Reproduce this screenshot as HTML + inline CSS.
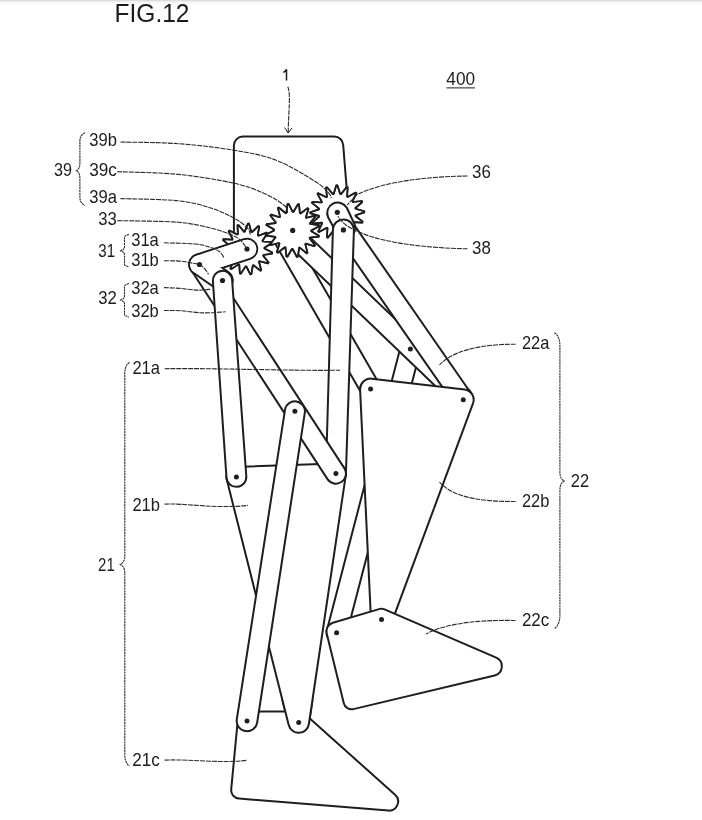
<!DOCTYPE html>
<html><head><meta charset="utf-8"><title>FIG.12</title>
<style>
html,body{margin:0;padding:0;background:#fff;}
body{width:702px;height:820px;overflow:hidden;position:relative;font-family:"Liberation Sans",sans-serif;}
svg{position:absolute;left:0;top:0;display:block;filter:grayscale(1);}
svg text{font-family:"Liberation Sans",sans-serif;fill:#1c1c1c;}
.topline{position:absolute;left:0;top:0;width:702px;height:4px;background:linear-gradient(#d4d4d4,#f1f1f1 40%,#fff);}
</style></head><body>
<svg width="702" height="820" viewBox="0 0 702 820">
<defs><clipPath id="c21b"><rect x="270" y="700" width="60" height="40"/></clipPath></defs>
<path d="M233.9 236 L233.9 145.4 A9 9 0 0 1 242.9 136.5 L334.2 136.5 A9 9 0 0 1 343.2 145.2 L346.8 190" fill="none" stroke="#1e1e1e" stroke-width="2" stroke-linejoin="round" stroke-linecap="round"/>
<path d="M276.3 245.6 L361.9 394.1 A10 10 0 0 0 379.3 384.1 L293.7 235.6 A10 10 0 0 0 276.3 245.6 Z" fill="#fff" stroke="#1e1e1e" stroke-width="2" stroke-linejoin="round" stroke-linecap="round"/>
<path d="M400.7 346.4 L326.9 630.2 A10 10 0 0 0 346.3 635.2 L420.1 351.4 A10 10 0 0 0 400.7 346.4 Z" fill="#fff" stroke="#1e1e1e" stroke-width="2" stroke-linejoin="round" stroke-linecap="round"/>
<path d="M285.6 242.4 L455.4 405.2 A10.3 10.3 0 0 0 469.6 390.4 L299.8 227.6 A10.3 10.3 0 0 0 285.6 242.4 Z" fill="#fff" stroke="#1e1e1e" stroke-width="2" stroke-linejoin="round" stroke-linecap="round"/>
<circle cx="410.4" cy="348.9" r="2.5" fill="#1e1e1e"/>
<path d="M247.9 223.5 L249 223.6 L251.3 232 L252 232.2 L258.2 226.1 L259.2 226.6 L257.8 235.2 L258.4 235.7 L266.6 232.6 L267.2 233.5 L262.5 240.8 L262.8 241.5 L271.5 242 L271.8 243 L264.5 247.8 L264.5 248.5 L272.2 252.6 L272.1 253.6 L263.4 255 L263.2 255.7 L268.6 262.6 L268 263.4 L259.6 261.2 L259 261.7 L261.2 270.2 L260.3 270.7 L253.5 265.2 L252.8 265.5 L251.4 274.1 L250.3 274.3 L246.4 266.5 L245.6 266.4 L240.8 273.7 L239.8 273.4 L239.3 264.7 L238.6 264.4 L231.3 269.1 L230.4 268.4 L233.6 260.2 L233.1 259.7 L224.5 260.9 L224 260 L230.2 253.8 L230 253.1 L221.6 250.7 L221.5 249.7 L229.7 246.5 L229.8 245.8 L223.1 240.2 L223.4 239.2 L232.2 239.7 L232.6 239.1 L228.7 231.3 L229.4 230.5 L237.2 234.5 L237.9 234.1 L237.5 225.3 L238.5 225 L244 231.8 L244.7 231.6 Z" fill="#fff" stroke="#1e1e1e" stroke-width="1.7" stroke-linejoin="round" stroke-linecap="round"/>
<path d="M287.5 204.1 L288.6 203.9 L292.7 211.8 L293.5 211.8 L298 204.1 L299 204.4 L299.9 213.2 L300.5 213.5 L307.6 208.1 L308.5 208.8 L305.9 217.3 L306.4 217.8 L315 215.6 L315.6 216.4 L309.9 223.3 L310.2 224 L319 225.2 L319.2 226.3 L311.3 230.4 L311.3 231.2 L319 235.7 L318.7 236.7 L309.9 237.6 L309.6 238.2 L315 245.3 L314.3 246.2 L305.8 243.6 L305.3 244.1 L307.5 252.7 L306.7 253.3 L299.8 247.6 L299.1 247.9 L297.9 256.7 L296.8 256.9 L292.7 249 L291.9 249 L287.4 256.7 L286.4 256.4 L285.5 247.6 L284.9 247.3 L277.8 252.7 L276.9 252 L279.5 243.5 L279 243 L270.4 245.2 L269.8 244.4 L275.5 237.5 L275.2 236.8 L266.4 235.6 L266.2 234.5 L274.1 230.4 L274.1 229.6 L266.4 225.1 L266.7 224.1 L275.5 223.2 L275.8 222.6 L270.4 215.5 L271.1 214.6 L279.6 217.2 L280.1 216.7 L277.9 208.1 L278.7 207.5 L285.6 213.2 L286.3 212.9 Z" fill="#fff" stroke="#1e1e1e" stroke-width="1.7" stroke-linejoin="round" stroke-linecap="round"/>
<path d="M336.3 185.3 L337.4 185.3 L340.2 193.9 L341 194.1 L346.7 187 L347.7 187.4 L347.1 196.5 L347.7 196.9 L355.7 192.5 L356.4 193.2 L352.4 201.4 L352.8 202 L361.8 201 L362.3 202 L355.4 208 L355.6 208.7 L364.3 211.3 L364.3 212.4 L355.7 215.2 L355.5 216 L362.6 221.7 L362.2 222.7 L353.1 222.1 L352.7 222.7 L357.1 230.7 L356.4 231.4 L348.2 227.4 L347.6 227.8 L348.6 236.8 L347.6 237.3 L341.6 230.4 L340.9 230.6 L338.3 239.3 L337.2 239.3 L334.4 230.7 L333.6 230.5 L327.9 237.6 L326.9 237.2 L327.5 228.1 L326.9 227.7 L318.9 232.1 L318.2 231.4 L322.2 223.2 L321.8 222.6 L312.8 223.6 L312.3 222.6 L319.2 216.6 L319 215.9 L310.3 213.3 L310.3 212.2 L318.9 209.4 L319.1 208.6 L312 202.9 L312.4 201.9 L321.5 202.5 L321.9 201.9 L317.5 193.9 L318.2 193.2 L326.4 197.2 L327 196.8 L326 187.8 L327 187.3 L333 194.2 L333.7 194 Z" fill="#fff" stroke="#1e1e1e" stroke-width="1.7" stroke-linejoin="round" stroke-linecap="round"/>
<path d="M247.9 223.5 L249 223.6 L251.3 232 L252 232.2 L258.2 226.1 L259.2 226.6 L257.8 235.2 L258.4 235.7 L266.6 232.6 L267.2 233.5 L262.5 240.8 L262.8 241.5 L271.5 242 L271.8 243 L264.5 247.8 L264.5 248.5 L272.2 252.6 L272.1 253.6 L263.4 255 L263.2 255.7 L268.6 262.6 L268 263.4 L259.6 261.2 L259 261.7 L261.2 270.2 L260.3 270.7 L253.5 265.2 L252.8 265.5 L251.4 274.1 L250.3 274.3 L246.4 266.5 L245.6 266.4 L240.8 273.7 L239.8 273.4 L239.3 264.7 L238.6 264.4 L231.3 269.1 L230.4 268.4 L233.6 260.2 L233.1 259.7 L224.5 260.9 L224 260 L230.2 253.8 L230 253.1 L221.6 250.7 L221.5 249.7 L229.7 246.5 L229.8 245.8 L223.1 240.2 L223.4 239.2 L232.2 239.7 L232.6 239.1 L228.7 231.3 L229.4 230.5 L237.2 234.5 L237.9 234.1 L237.5 225.3 L238.5 225 L244 231.8 L244.7 231.6 Z" fill="none" stroke="#1e1e1e" stroke-width="1.7" stroke-linejoin="round" stroke-linecap="round"/>
<path d="M287.5 204.1 L288.6 203.9 L292.7 211.8 L293.5 211.8 L298 204.1 L299 204.4 L299.9 213.2 L300.5 213.5 L307.6 208.1 L308.5 208.8 L305.9 217.3 L306.4 217.8 L315 215.6 L315.6 216.4 L309.9 223.3 L310.2 224 L319 225.2 L319.2 226.3 L311.3 230.4 L311.3 231.2 L319 235.7 L318.7 236.7 L309.9 237.6 L309.6 238.2 L315 245.3 L314.3 246.2 L305.8 243.6 L305.3 244.1 L307.5 252.7 L306.7 253.3 L299.8 247.6 L299.1 247.9 L297.9 256.7 L296.8 256.9 L292.7 249 L291.9 249 L287.4 256.7 L286.4 256.4 L285.5 247.6 L284.9 247.3 L277.8 252.7 L276.9 252 L279.5 243.5 L279 243 L270.4 245.2 L269.8 244.4 L275.5 237.5 L275.2 236.8 L266.4 235.6 L266.2 234.5 L274.1 230.4 L274.1 229.6 L266.4 225.1 L266.7 224.1 L275.5 223.2 L275.8 222.6 L270.4 215.5 L271.1 214.6 L279.6 217.2 L280.1 216.7 L277.9 208.1 L278.7 207.5 L285.6 213.2 L286.3 212.9 Z" fill="none" stroke="#1e1e1e" stroke-width="1.7" stroke-linejoin="round" stroke-linecap="round"/>
<path d="M336.3 185.3 L337.4 185.3 L340.2 193.9 L341 194.1 L346.7 187 L347.7 187.4 L347.1 196.5 L347.7 196.9 L355.7 192.5 L356.4 193.2 L352.4 201.4 L352.8 202 L361.8 201 L362.3 202 L355.4 208 L355.6 208.7 L364.3 211.3 L364.3 212.4 L355.7 215.2 L355.5 216 L362.6 221.7 L362.2 222.7 L353.1 222.1 L352.7 222.7 L357.1 230.7 L356.4 231.4 L348.2 227.4 L347.6 227.8 L348.6 236.8 L347.6 237.3 L341.6 230.4 L340.9 230.6 L338.3 239.3 L337.2 239.3 L334.4 230.7 L333.6 230.5 L327.9 237.6 L326.9 237.2 L327.5 228.1 L326.9 227.7 L318.9 232.1 L318.2 231.4 L322.2 223.2 L321.8 222.6 L312.8 223.6 L312.3 222.6 L319.2 216.6 L319 215.9 L310.3 213.3 L310.3 212.2 L318.9 209.4 L319.1 208.6 L312 202.9 L312.4 201.9 L321.5 202.5 L321.9 201.9 L317.5 193.9 L318.2 193.2 L326.4 197.2 L327 196.8 L326 187.8 L327 187.3 L333 194.2 L333.7 194 Z" fill="none" stroke="#1e1e1e" stroke-width="1.7" stroke-linejoin="round" stroke-linecap="round"/>
<circle cx="292.7" cy="230.4" r="2.6" fill="#1e1e1e"/>
<path d="M335.1 232.5 L455.1 405.4 A10 10 0 0 0 471.5 394 L351.5 221.1 A10 10 0 0 0 335.1 232.5 Z" fill="#fff" stroke="#1e1e1e" stroke-width="2" stroke-linejoin="round" stroke-linecap="round"/>
<path d="M328.1 217.3 L336.5 232.8 A10 10 0 0 0 354.3 223.7 L346.8 207.8 A10.5 10.5 0 0 0 328.1 217.3 Z" fill="#fff" stroke="#1e1e1e" stroke-width="2" stroke-linejoin="round" stroke-linecap="round"/>
<circle cx="337.3" cy="212.3" r="2.6" fill="#1e1e1e"/>
<path d="M332.9 229.6 L325.9 473.3 A10 10 0 0 0 345.9 473.9 L353.9 230.2 A10.5 10.5 0 0 0 332.9 229.6 Z" fill="#fff" stroke="#1e1e1e" stroke-width="2" stroke-linejoin="round" stroke-linecap="round"/>
<circle cx="343.4" cy="229.9" r="2.6" fill="#1e1e1e"/>
<path d="M236.1 466.9 L335.6 463.6 A10 10 0 0 1 345.8 475.1 L345.8 475.1 L308.9 724 A10.3 10.3 0 0 1 288.7 725 L288.7 725 L226.7 479.3 A10 10 0 0 1 236.1 466.9 Z" fill="#fff" stroke="#1e1e1e" stroke-width="2" stroke-linejoin="round" stroke-linecap="round"/>
<path d="M238.6 711.5 L302 711.5 L395.1 794.8 A9.1 9.1 0 0 1 388.3 810.6 L239 798.6 A8.5 8.5 0 0 1 231.2 789.3 Z" fill="#fff" stroke="#1e1e1e" stroke-width="2" stroke-linejoin="round" stroke-linecap="round"/>
<path d="M236.1 466.9 L335.6 463.6 A10 10 0 0 1 345.8 475.1 L345.8 475.1 L308.9 724 A10.3 10.3 0 0 1 288.7 725 L288.7 725 L226.7 479.3 A10 10 0 0 1 236.1 466.9 Z" fill="#fff" stroke="#1e1e1e" stroke-width="2" stroke-linejoin="round" stroke-linecap="round" clip-path="url(#c21b)"/>
<circle cx="298.7" cy="722.5" r="2.5" fill="#1e1e1e"/>
<path d="M191.1 270 L327.5 479.1 A10 10 0 0 0 344.3 468.1 L207.9 259 A10 10 0 0 0 191.1 270 Z" fill="#fff" stroke="#1e1e1e" stroke-width="2" stroke-linejoin="round" stroke-linecap="round"/>
<circle cx="335.9" cy="473.6" r="2.5" fill="#1e1e1e"/>
<path d="M243.8 239.3 L196.3 254.8 A10.2 10.2 0 0 0 202.7 274.2 L250.2 258.7 A10.2 10.2 0 0 0 243.8 239.3 Z" fill="#fff" stroke="#1e1e1e" stroke-width="2" stroke-linejoin="round" stroke-linecap="round"/>
<path d="M193.7 272.9 L216.7 288.9 A10.2 10.2 0 0 0 228.3 272.1 L205.3 256.1 A10.2 10.2 0 0 0 193.7 272.9 Z" fill="#fff" stroke="#1e1e1e" stroke-width="2" stroke-linejoin="round" stroke-linecap="round"/>
<path d="M244.1 240.2 L196.6 255.7 A9.2 9.2 0 0 0 202.4 273.3 L249.9 257.8 A9.2 9.2 0 0 0 244.1 240.2 Z" fill="#fff"/>
<path d="M194.2 272.1 L217.2 288.1 A9.2 9.2 0 0 0 227.8 272.9 L204.8 256.9 A9.2 9.2 0 0 0 194.2 272.1 Z" fill="#fff"/>
<circle cx="247" cy="249" r="2.6" fill="#1e1e1e"/>
<circle cx="199.5" cy="264.5" r="2.6" fill="#1e1e1e"/>
<path d="M212.9 281.2 L226.5 477.6 A9.9 9.9 0 0 0 246.3 476.2 L232.1 279.8 A9.6 9.6 0 0 0 212.9 281.2 Z" fill="#fff" stroke="#1e1e1e" stroke-width="2" stroke-linejoin="round" stroke-linecap="round"/>
<circle cx="222.5" cy="280.5" r="2.6" fill="#1e1e1e"/>
<circle cx="236.4" cy="476.9" r="2.5" fill="#1e1e1e"/>
<path d="M285 409.8 L236.8 719.3 A10.3 10.3 0 0 0 257.2 722.5 L304.8 412.8 A10 10 0 0 0 285 409.8 Z" fill="#fff" stroke="#1e1e1e" stroke-width="2" stroke-linejoin="round" stroke-linecap="round"/>
<circle cx="294.9" cy="411.3" r="2.5" fill="#1e1e1e"/>
<circle cx="247" cy="720.9" r="2.5" fill="#1e1e1e"/>
<path d="M371.8 378.7 L464.5 389.4 A10.4 10.4 0 0 1 473 403.3 L473 403.3 L391.3 623.3 A10.5 10.5 0 0 1 371 620.1 L371 620.1 L360.1 389.6 A10.5 10.5 0 0 1 371.8 378.7 Z" fill="#fff" stroke="#1e1e1e" stroke-width="2" stroke-linejoin="round" stroke-linecap="round"/>
<circle cx="370.6" cy="389.1" r="2.5" fill="#1e1e1e"/>
<circle cx="463.3" cy="399.7" r="2.5" fill="#1e1e1e"/>
<path d="M326.7 633.5 A9 9 0 0 1 332.9 622.7 L379.9 608.9 A6 6 0 0 1 384 609.2 L496.2 657.6 A9.5 9.5 0 0 1 494.6 675.5 L353.4 709.1 A8 8 0 0 1 343.8 703.2 Z" fill="#fff" stroke="#1e1e1e" stroke-width="2" stroke-linejoin="round" stroke-linecap="round"/>
<circle cx="336.6" cy="632.7" r="2.5" fill="#1e1e1e"/>
<circle cx="381.5" cy="619.6" r="2.5" fill="#1e1e1e"/>
<path d="M120.5 142 C130.2 142.3 159.7 142.3 178.4 143.7 C197.2 145 216.8 147.4 233 150.1 C249.2 152.8 261.8 154.8 275.5 160 C289.2 165.2 306.1 175.8 315 181.3 C323.9 186.8 326.1 190.4 328.8 193.2 C331.5 196 330.9 197.2 331.3 198" fill="none" stroke="#2a2a2a" stroke-width="1.1" stroke-dasharray="5 0.9"/>
<path d="M117 171.7 C127.2 172.1 159.1 172.5 178.4 174.4 C197.7 176.3 218.8 179.9 233 183 C247.2 186.1 255.2 189.4 263.8 193.2 C272.4 196.9 280.4 202.2 284.4 205.5 C288.4 208.8 287.1 211.8 287.6 213" fill="none" stroke="#2a2a2a" stroke-width="1.1" stroke-dasharray="5 0.9"/>
<path d="M120.5 198.6 C130.2 199 163.1 199.1 178.4 200.8 C193.8 202.5 202.9 205.5 212.6 208.6 C222.3 211.7 230.6 216.2 236.5 219.6 C242.4 222.9 245.6 226.2 247.9 228.7 C250.2 231.2 250 233.6 250.4 234.6" fill="none" stroke="#2a2a2a" stroke-width="1.1" stroke-dasharray="5 0.9"/>
<path d="M117.5 220.6 C127.7 220.9 162.6 221 178.4 222.3 C194.2 223.6 204.1 226.5 212.6 228.5 C221.1 230.5 225.2 232.5 229.7 234.3 C234.2 236.1 236.9 237.1 239.8 239.5 C242.7 241.9 245.8 247.2 247 248.7" fill="none" stroke="#2a2a2a" stroke-width="1.1" stroke-dasharray="5 0.9"/>
<path d="M164 242.8 C169.2 243 187.8 243.3 195.5 244 C203.2 244.7 206 245.9 210 247.2 C214 248.4 217.1 249.8 219.4 251.5 C221.7 253.2 223.2 256.7 223.9 257.7" fill="none" stroke="#2a2a2a" stroke-width="1.1" stroke-dasharray="5 0.9"/>
<path d="M164 260.7 C166.7 260.8 175.6 260.8 180 261.1 C184.4 261.5 187 262.2 190.3 262.8 C193.6 263.4 197.2 263.9 199.6 264.8 C202 265.8 203 266.9 204.5 268.5 C206 270.1 207.8 273.2 208.5 274.2" fill="none" stroke="#2a2a2a" stroke-width="1.1" stroke-dasharray="5 0.9"/>
<path d="M164 287.6 C166.7 287.7 174.5 288 180 288.4 C185.5 288.8 192 290 197.1 290.1 C202.2 290.2 208.5 289.4 210.8 289.2" fill="none" stroke="#2a2a2a" stroke-width="1.1" stroke-dasharray="5 0.9"/>
<path d="M164 310.5 C166.7 310.5 173.5 310.3 180 310.7 C186.5 311.1 195.2 312.7 202.8 312.9 C210.4 313.1 221.8 312 225.6 311.8" fill="none" stroke="#2a2a2a" stroke-width="1.1" stroke-dasharray="5 0.9"/>
<path d="M467.5 176 C430 176.5 385 181 357 194.5 L347.3 204.8" fill="none" stroke="#2a2a2a" stroke-width="1.1" stroke-dasharray="5 0.9"/>
<path d="M467.5 248.8 C430 248 385 244 358 231.5 C350 228 342 224 338 216" fill="none" stroke="#2a2a2a" stroke-width="1.1" stroke-dasharray="5 0.9"/>
<path d="M515.6 344.2 C490 344 455 348 439.5 365" fill="none" stroke="#2a2a2a" stroke-width="1.1" stroke-dasharray="5 0.9"/>
<path d="M515.6 501.5 C490 501.5 455 500 439.5 482" fill="none" stroke="#2a2a2a" stroke-width="1.1" stroke-dasharray="5 0.9"/>
<path d="M515.6 620.5 C490 620 450 621 426 634" fill="none" stroke="#2a2a2a" stroke-width="1.1" stroke-dasharray="5 0.9"/>
<path d="M164.6 368.7 C220 368 290 371 340 370.2" fill="none" stroke="#2a2a2a" stroke-width="1.1" stroke-dasharray="5 0.9"/>
<path d="M164.6 504.1 C185 503 215 509 248 505.4" fill="none" stroke="#2a2a2a" stroke-width="1.1" stroke-dasharray="5 0.9"/>
<path d="M164.7 760.1 C190 759 220 763.5 246.3 760.4" fill="none" stroke="#2a2a2a" stroke-width="1.1" stroke-dasharray="5 0.9"/>
<path d="M287.8 86.6 C291 95 288.5 110 288.2 132.5" fill="none" stroke="#2a2a2a" stroke-width="1.1" stroke-dasharray="5 0.9"/>
<path d="M284.5 127.5 L288.2 133 L292 128" fill="none" stroke="#1e1e1e" stroke-width="1"/>
<path d="M85 132.8 C82.5 133.8 79.9 136.4 79.9 140.8 L79.9 162.7 C79.9 168.4 78.1 169.5 76.3 170.7 C78.1 171.9 79.9 172.9 79.9 178.7 L79.9 197.5 C79.9 201.9 82.5 204.5 85 205.5" fill="none" stroke="#2a2a2a" stroke-width="1.1" stroke-dasharray="2.2 0.6"/>
<path d="M129 234.4 C126.8 235.4 124.5 235.6 124.5 237 L124.5 246.2 C124.5 250.1 122.5 249.6 120.6 250.8 C122.5 252 124.5 251.5 124.5 255.4 L124.5 264.4 C124.5 265.8 126.8 266 129 267" fill="none" stroke="#2a2a2a" stroke-width="1.1" stroke-dasharray="2.2 0.6"/>
<path d="M129 283.6 C126.8 284.6 124.5 284.8 124.5 286.2 L124.5 295.4 C124.5 299.3 122.5 298.8 120.6 300 C122.5 301.2 124.5 300.7 124.5 304.6 L124.5 314.4 C124.5 315.8 126.8 316 129 317" fill="none" stroke="#2a2a2a" stroke-width="1.1" stroke-dasharray="2.2 0.6"/>
<path d="M129.5 362.5 C127.2 363.5 124.8 367.4 124.8 373.5 L124.8 554.9 C124.8 561.5 122.5 563.2 120.3 564.4 C122.5 565.6 124.8 567.3 124.8 573.9 L124.8 755 C124.8 761 127.2 765 129.5 766" fill="none" stroke="#2a2a2a" stroke-width="1.1" stroke-dasharray="2.2 0.6"/>
<path d="M554.4 332.7 C557.1 333.7 559.9 338.6 559.9 345.7 L559.9 471.5 C559.9 478.1 562 479.8 564.2 481 C562 482.2 559.9 483.9 559.9 490.5 L559.9 615.3 C559.9 622.4 557.1 627.3 554.4 628.3" fill="none" stroke="#2a2a2a" stroke-width="1.1" stroke-dasharray="2.2 0.6"/>
<text x="114.6" y="22.3" font-size="25" textLength="74.9" lengthAdjust="spacingAndGlyphs">FIG.12</text>
<path d="M283.4 72.4 C285 71.6 286 70.6 286.5 69.2 L286.5 80.6" fill="none" stroke="#1c1c1c" stroke-width="1.5"/>
<text x="446.3" y="85.1" font-size="18.6" textLength="28.8" lengthAdjust="spacingAndGlyphs">400</text>
<path d="M446.5 87.9 H475" stroke="#1e1e1e" stroke-width="1"/>
<text x="89.2" y="146.2" font-size="18.6" textLength="27.7" lengthAdjust="spacingAndGlyphs">39b</text>
<text x="89.2" y="175.6" font-size="18.6" textLength="27.7" lengthAdjust="spacingAndGlyphs">39c</text>
<text x="89.2" y="203.2" font-size="18.6" textLength="27.7" lengthAdjust="spacingAndGlyphs">39a</text>
<text x="54.1" y="175.6" font-size="18.6" textLength="18" lengthAdjust="spacingAndGlyphs">39</text>
<text x="98.3" y="225.4" font-size="18.6" textLength="18.6" lengthAdjust="spacingAndGlyphs">33</text>
<text x="131.2" y="246.2" font-size="18.6" textLength="27.6" lengthAdjust="spacingAndGlyphs">31a</text>
<text x="131.2" y="266.2" font-size="18.6" textLength="27.6" lengthAdjust="spacingAndGlyphs">31b</text>
<text x="98.3" y="256.8" font-size="18.6" textLength="16.8" lengthAdjust="spacingAndGlyphs">31</text>
<text x="131.2" y="293.8" font-size="18.6" textLength="27.6" lengthAdjust="spacingAndGlyphs">32a</text>
<text x="131.2" y="317.4" font-size="18.6" textLength="27.6" lengthAdjust="spacingAndGlyphs">32b</text>
<text x="98.3" y="303.8" font-size="18.6" textLength="18.6" lengthAdjust="spacingAndGlyphs">32</text>
<text x="472" y="177.9" font-size="18.6" textLength="18.8" lengthAdjust="spacingAndGlyphs">36</text>
<text x="472" y="254.4" font-size="18.6" textLength="18.8" lengthAdjust="spacingAndGlyphs">38</text>
<text x="521.9" y="349.3" font-size="18.6" textLength="27.4" lengthAdjust="spacingAndGlyphs">22a</text>
<text x="521.9" y="506.5" font-size="18.6" textLength="27.4" lengthAdjust="spacingAndGlyphs">22b</text>
<text x="521.9" y="626.3" font-size="18.6" textLength="27.4" lengthAdjust="spacingAndGlyphs">22c</text>
<text x="570.7" y="486.6" font-size="18.6" textLength="18.4" lengthAdjust="spacingAndGlyphs">22</text>
<text x="132.4" y="373.8" font-size="18.6" textLength="27.6" lengthAdjust="spacingAndGlyphs">21a</text>
<text x="132.4" y="511.3" font-size="18.6" textLength="27.6" lengthAdjust="spacingAndGlyphs">21b</text>
<text x="132.2" y="765.9" font-size="18.6" textLength="27.5" lengthAdjust="spacingAndGlyphs">21c</text>
<text x="98.1" y="571.2" font-size="18.6" textLength="16.6" lengthAdjust="spacingAndGlyphs">21</text>
</svg>
<div class="topline"></div>
</body></html>
